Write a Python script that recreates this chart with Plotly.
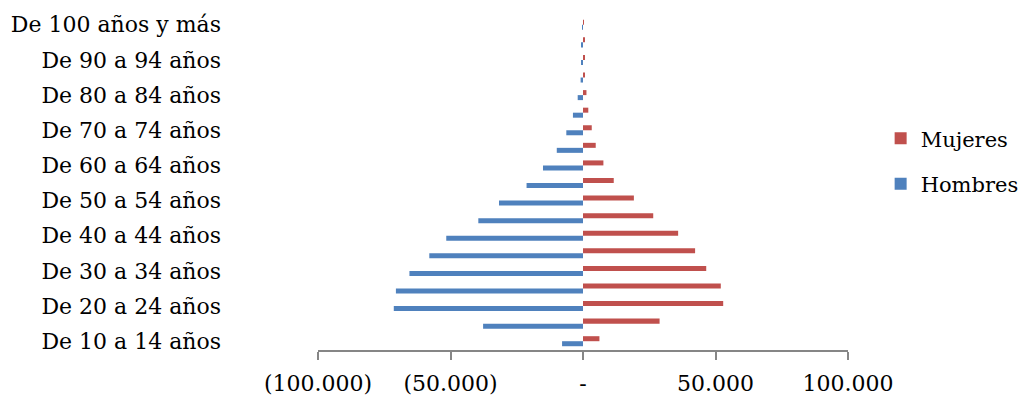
import plotly.graph_objects as go

categorias = [
    "De 10 a 14 años", "De 15 a 19 años", "De 20 a 24 años", "De 25 a 29 años",
    "De 30 a 34 años", "De 35 a 39 años", "De 40 a 44 años", "De 45 a 49 años",
    "De 50 a 54 años", "De 55 a 59 años", "De 60 a 64 años", "De 65 a 69 años",
    "De 70 a 74 años", "De 75 a 79 años", "De 80 a 84 años", "De 85 a 89 años",
    "De 90 a 94 años", "De 95 a 99 años", "De 100 años y más",
]
hombres = [-7900, -37700, -71400, -70600, -65500, -58000, -51600, -39500, -31700,
           -21300, -15100, -9900, -6300, -3800, -2000, -900, -600, -400, -100]
mujeres = [6200, 28900, 52900, 52000, 46500, 42300, 35900, 26500, 19200,
           11600, 7700, 4800, 3300, 2000, 1300, 600, 500, 500, 100]

etiquetas_y = categorias[::2]
ticks_x = [-100000, -50000, 0, 50000, 100000]
textos_x = ["(100.000)", "(50.000)", "-", "50.000", "100.000"]

FONT = "DejaVu Serif"

fig = go.Figure()
fig.add_trace(go.Bar(y=categorias, x=hombres, orientation="h", name="Hombres",
                     marker=dict(color="#4F81BD", line=dict(width=0)),
                     legendgroup="h", legendrank=2))
fig.add_trace(go.Bar(y=categorias, x=mujeres, orientation="h", name="Mujeres",
                     marker=dict(color="#C0504D", line=dict(width=0)),
                     legendgroup="m", legendrank=1))

fig.update_layout(
    width=1024, height=397,
    margin=dict(l=318, r=176, t=16, b=47),
    paper_bgcolor="white", plot_bgcolor="white",
    barmode="group", bargap=0.43, bargroupgap=0,
    font=dict(family=FONT, size=22, color="black"),
    legend=dict(xref="container", yref="container", x=0.86, y=0.594,
                xanchor="left", yanchor="middle",
                traceorder="grouped", tracegroupgap=15,
                font=dict(family=FONT, size=21, color="black"),
                bgcolor="rgba(0,0,0,0)"),
    showlegend=True,
)
fig.update_xaxes(
    range=[-100000, 100000], tickvals=ticks_x, ticktext=textos_x,
    showgrid=False, zeroline=False, showline=True, linecolor="#868686", linewidth=2,
    ticks="outside", ticklen=8, tickwidth=2, tickcolor="#868686",
    ticklabelstandoff=5, automargin=False,
    tickfont=dict(family=FONT, size=22, color="black"),
)
fig.update_yaxes(
    type="category", categoryorder="array", categoryarray=categorias,
    tickvals=etiquetas_y, ticktext=etiquetas_y,
    showgrid=False, zeroline=False, showline=False, ticks="",
    ticklabelstandoff=96, automargin=False,
    tickfont=dict(family=FONT, size=22, color="black"),
)

fig.write_html("out.html", config={"displayModeBar": False},
               post_script="document.body.style.margin='0';")
